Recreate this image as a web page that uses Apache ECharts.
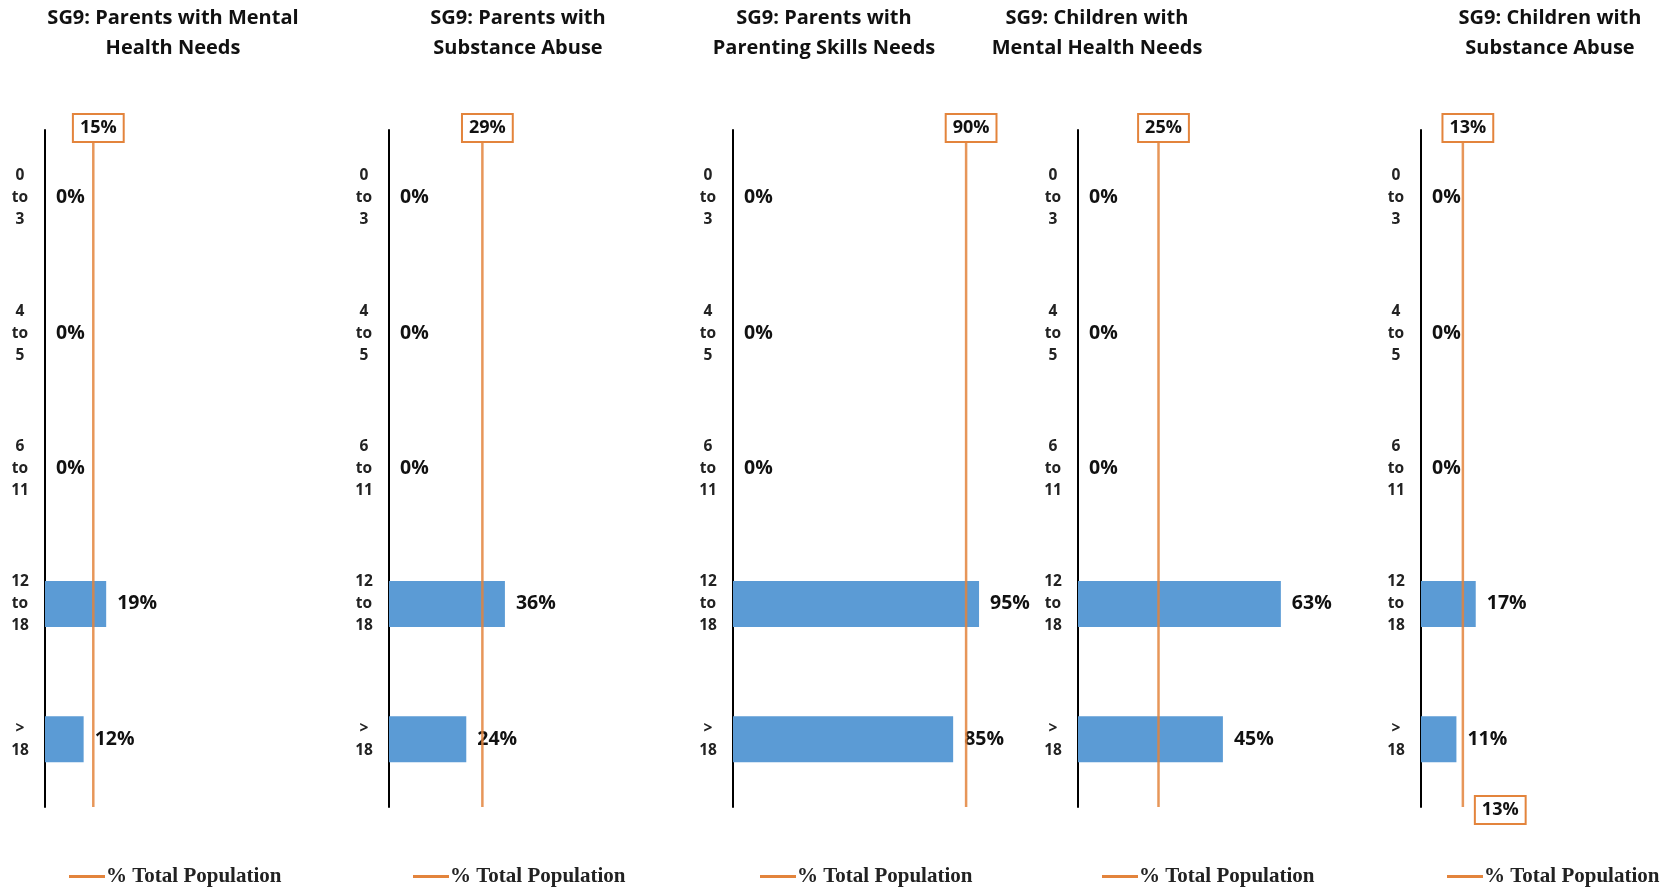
<!DOCTYPE html>
<html>
<head>
<meta charset="utf-8">
<script src="https://cdn.jsdelivr.net/npm/echarts@6/dist/echarts.min.js"></script>
<style>
html,body{margin:0;padding:0;background:#fff;}
#chart{width:1673px;height:890px;}
</style>
</head>
<body>
<div id="chart"></div>
<script>
// ---- data ----
const categories = ['0\nto\n3', '4\nto\n5', '6\nto\n11', '12\nto\n18', '>\n18'];
const panelTitles = [
  'SG9: Parents with Mental\nHealth Needs',
  'SG9: Parents with\nSubstance Abuse',
  'SG9: Parents with\nParenting Skills Needs',
  'SG9: Children with\nMental Health Needs',
  'SG9: Children with\nSubstance Abuse'
];
const parentsMentalHealth = [0, 0, 0, 19, 12];
const parentsSubstanceAbuse = [0, 0, 0, 36, 24];
const parentsParentingSkills = [0, 0, 0, 95, 85];
const childrenMentalHealth = [0, 0, 0, 63, 45];
const childrenSubstanceAbuse = [0, 0, 0, 17, 11];
const totalPopulation = [15, 29, 90, 25, 13];
const lineName = '% Total Population';

// ---- layout (pixels) ----
const seriesValues = [parentsMentalHealth, parentsSubstanceAbuse, parentsParentingSkills, childrenMentalHealth, childrenSubstanceAbuse];
const gridLefts = [45, 389, 733, 1078, 1421];
const axisMax = [100, 100, 100, 100, 70];
const gridWidths = [322, 322, 259, 322, 225.4];
const titleCenters = [173, 518, 824, 1097, 1550];
const legendLefts = [69, 413, 760, 1102, 1447];
const bottomLabel = [false, false, false, false, true];

const ORANGE = '#E3843C';
const BLUE = '#5B9BD5';
const sans = '"Open Sans", "Noto Sans", sans-serif';

const option = {
  animation: false,
  backgroundColor: '#fff',
  title: [], grid: [], xAxis: [], yAxis: [], series: [], legend: []
};

for (let i = 0; i < 5; i++) {
  option.title.push({
    text: panelTitles[i],
    left: titleCenters[i],
    top: 3,
    textAlign: 'center',
    padding: 0,
    textStyle: {fontFamily: sans, fontSize: 20, fontWeight: 'bold', color: '#111', lineHeight: 30}
  });
  option.grid.push({left: gridLefts[i], top: 130, width: gridWidths[i], height: 677, containLabel: false});
  option.xAxis.push({type: 'value', gridIndex: i, min: 0, max: axisMax[i], show: false});
  option.yAxis.push({
    type: 'category', gridIndex: i, data: categories, inverse: true,
    axisLine: {show: true, lineStyle: {color: '#000', width: 2}},
    axisTick: {show: false},
    splitLine: {show: false},
    axisLabel: {interval: 0, align: 'center', margin: 25, fontFamily: sans, fontSize: 15.5, fontWeight: 'bold', color: '#222', lineHeight: 22}
  });
  option.yAxis.push({type: 'value', gridIndex: i, min: 0, max: 1, show: false});
  option.series.push({
    type: 'bar', name: 'Share', xAxisIndex: i, yAxisIndex: 2 * i,
    data: seriesValues[i], barWidth: 46,
    itemStyle: {color: BLUE},
    label: {show: true, position: 'right', distance: 11, formatter: '{c}%', fontFamily: sans, fontSize: 19.5, fontWeight: 'bold', color: '#111'},
    z: 2
  });
  const boxLabel = {
    show: true, formatter: (p) => p.value[0] + '%',
    fontFamily: sans, fontSize: 18, fontWeight: 'bold', color: '#111',
    backgroundColor: '#fff', borderColor: ORANGE, borderWidth: 2, padding: [5, 6, 3, 6]
  };
  const pts = [
    {value: [totalPopulation[i], 1], label: Object.assign({}, boxLabel, {position: 'inside', offset: [5, -2]})},
    {value: [totalPopulation[i], 0], label: bottomLabel[i] ? Object.assign({}, boxLabel, {position: 'right', distance: 13, offset: [0, 3]}) : {show: false}}
  ];
  option.series.push({
    type: 'line', name: lineName, xAxisIndex: i, yAxisIndex: 2 * i + 1,
    data: pts, symbol: 'circle', symbolSize: 0, showSymbol: true,
    lineStyle: {color: ORANGE, width: 2.5, opacity: 0.85},
    itemStyle: {color: ORANGE},
    z: 5
  });
  option.legend.push({
    data: [lineName], left: legendLefts[i], top: 866, padding: 0,
    icon: 'rect', itemWidth: 36, itemHeight: 3, selectedMode: false,
    itemStyle: {color: ORANGE},
    textStyle: {fontFamily: '"Liberation Serif", "DejaVu Serif", serif', fontSize: 21, fontWeight: 'bold', color: '#222', padding: [2, 0, 0, -4]}
  });
}

const chart = echarts.init(document.getElementById('chart'));
chart.setOption(option);
</script>
</body>
</html>
